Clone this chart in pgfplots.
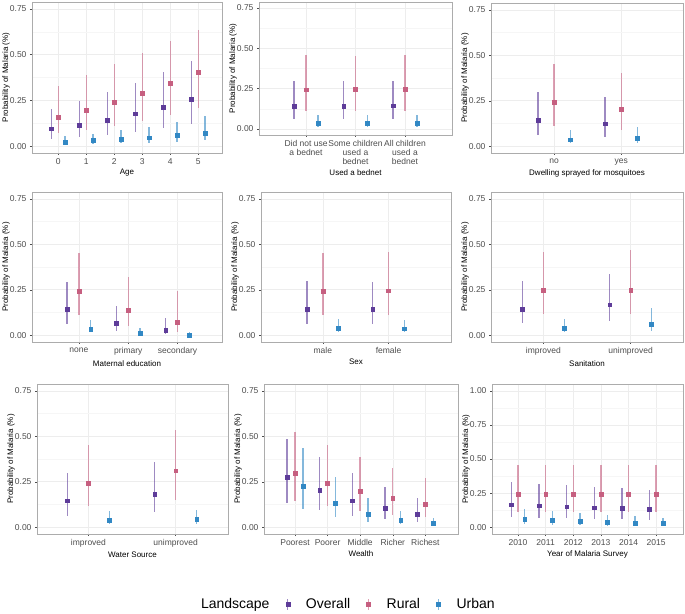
\documentclass[border=0pt]{standalone}
\usepackage{pgfplots}
\pgfplotsset{compat=1.18}
\usepackage{pgfplotstable}
\usepackage{fontspec}
\setmainfont{Liberation Sans}

\definecolor{ovr}{HTML}{5E3C99}
\definecolor{rur}{HTML}{C65F80}
\definecolor{urb}{HTML}{3288C4}
\definecolor{tickcol}{HTML}{4D4D4D}

% columns: category, Overall (est, low, high), Rural, Urban
\pgfplotstableread{
x o ol oh r rl rh u ul uh
0 0.095 0.040 0.204 0.160 0.070 0.331 0.022 0.010 0.058
1 0.115 0.051 0.246 0.198 0.087 0.388 0.031 0.013 0.069
2 0.142 0.060 0.295 0.242 0.109 0.450 0.038 0.015 0.086
3 0.177 0.078 0.346 0.289 0.137 0.510 0.046 0.018 0.107
4 0.211 0.098 0.404 0.344 0.169 0.573 0.058 0.024 0.133
5 0.258 0.122 0.464 0.404 0.207 0.632 0.071 0.031 0.164
}\agetab
\pgfplotstableread{
x o ol oh r rl rh u ul uh
1 0.140 0.060 0.295 0.244 0.110 0.457 0.036 0.013 0.088
2 0.143 0.060 0.297 0.245 0.110 0.455 0.037 0.013 0.088
3 0.144 0.062 0.298 0.245 0.110 0.457 0.037 0.013 0.089
}\nettab
\pgfplotstableread{
x o ol oh r rl rh u ul uh
1 0.142 0.060 0.296 0.241 0.111 0.453 0.036 0.015 0.088
2 0.124 0.051 0.270 0.204 0.088 0.405 0.042 0.015 0.106
}\spraytab
\pgfplotstableread{
x o ol oh r rl rh u ul uh
1 0.141 0.060 0.295 0.240 0.110 0.451 0.035 0.015 0.086
2 0.064 0.022 0.160 0.136 0.048 0.319 0.011 0.002 0.039
3 0.028 0.006 0.094 0.073 0.018 0.244 0.002 0.000 0.018
}\edutab
\pgfplotstableread{
x o ol oh r rl rh u ul uh
1 0.142 0.064 0.296 0.243 0.113 0.453 0.038 0.015 0.088
2 0.142 0.064 0.294 0.245 0.113 0.456 0.036 0.015 0.082
}\sextab
\pgfplotstableread{
x o ol oh r rl rh u ul uh
1 0.144 0.065 0.299 0.246 0.115 0.458 0.039 0.015 0.089
2 0.168 0.076 0.338 0.249 0.115 0.467 0.061 0.024 0.150
}\santab
\pgfplotstableread{
x o ol oh r rl rh u ul uh
1 0.146 0.064 0.297 0.244 0.115 0.451 0.040 0.015 0.091
2 0.180 0.082 0.359 0.311 0.149 0.537 0.042 0.015 0.096
}\watertab
\pgfplotstableread{
x o ol oh r rl rh u ul uh
1 0.273 0.131 0.486 0.297 0.142 0.522 0.224 0.100 0.433
2 0.202 0.093 0.386 0.244 0.115 0.451 0.131 0.058 0.277
3 0.146 0.064 0.297 0.197 0.087 0.386 0.073 0.031 0.162
4 0.104 0.046 0.220 0.158 0.069 0.324 0.040 0.015 0.091
5 0.071 0.031 0.160 0.126 0.055 0.269 0.024 0.009 0.051
}\wealthtab
\pgfplotstableread{
x o ol oh r rl rh u ul uh
1 0.165 0.073 0.328 0.243 0.114 0.454 0.056 0.024 0.131
2 0.158 0.070 0.318 0.243 0.114 0.454 0.051 0.019 0.117
3 0.150 0.066 0.306 0.243 0.114 0.454 0.044 0.017 0.104
4 0.143 0.061 0.296 0.243 0.114 0.454 0.036 0.012 0.092
5 0.138 0.058 0.286 0.243 0.114 0.454 0.032 0.012 0.083
6 0.131 0.053 0.274 0.243 0.114 0.454 0.029 0.007 0.070
}\yeartab

\pgfplotsset{
  panel/.style={
    scale only axis,
    ymin=-0.0375, ymax=0.7875,
    ytick={0,0.25,0.5,0.75},
    minor ytick={0.125,0.375,0.625},
    xmajorgrids, ymajorgrids, yminorgrids,
    major grid style={gray!14, line width=0.5pt},
    minor grid style={gray!7, line width=0.4pt},
    axis line style={gray!65, line width=0.6pt},
    tick pos=left, tick align=outside,
    major tick length=2pt, minor tick length=0pt,
    tick style={tickcol, line width=0.4pt},
    ticklabel style={font=\fontsize{8.5}{9}\selectfont, text=tickcol},
    /pgf/number format/assume math mode=true,
    yticklabel style={/pgf/number format/.cd, fixed, fixed zerofill, precision=2},
    label style={font=\fontsize{8}{9}\selectfont},
    ylabel={Probability of Malaria (\%)},
    every axis y label/.style={at={([xshift=-26pt]axis description cs:0,0.5)},
      rotate=90, anchor=center, font=\fontsize{8}{9}\selectfont},
    xlabel style={yshift=2pt},
    xtick=data,
  },
  ci/.style={only marks, mark=square*, mark size=1.9pt, color=#1, forget plot,
    error bars/.cd, y dir=both, y explicit, error mark=none,
    error bar style={line width=1.4pt, color=#1, draw opacity=0.6}},
  keyimg/.style={legend image code/.code={
    \draw[line width=1.4pt, draw opacity=0.6] (0.3em,-0.55em) -- (0.3em,0.55em);
    \fill (0.3em,0) ++(-2pt,-2pt) rectangle ++(4pt,4pt);}, color=#1},
}

\newcommand{\threeci}[1]{%
  \addplot[ci=ovr] table[x expr=\thisrow{x}-0.24, y=o,
    y error plus expr=\thisrow{oh}-\thisrow{o},
    y error minus expr=\thisrow{o}-\thisrow{ol}] {#1};
  \addplot[ci=rur] table[x=x, y=r,
    y error plus expr=\thisrow{rh}-\thisrow{r},
    y error minus expr=\thisrow{r}-\thisrow{rl}] {#1};
  \addplot[ci=urb] table[x expr=\thisrow{x}+0.24, y=u,
    y error plus expr=\thisrow{uh}-\thisrow{u},
    y error minus expr=\thisrow{u}-\thisrow{ul}] {#1};
}

\begin{document}
\begin{tikzpicture}
\useasboundingbox (0pt,0pt) rectangle (685pt,613pt);

% row 1
\begin{axis}[panel, at={(32pt,460pt)}, anchor=south west, width=190pt, height=151pt,
  xmin=-0.94, xmax=5.85, xtick={0,1,2,3,4,5}, xlabel={Age}]
\threeci{\agetab}
\end{axis}

\begin{axis}[panel, at={(259pt,478pt)}, anchor=south west, width=193pt, height=133pt,
  xmin=0.05, xmax=3.95, xtick={1,2,3},
  xticklabels={{Did not use\\a bednet},{Some children\\used a\\bednet},{All children\\used a\\bednet}},
  xticklabel style={align=center, font=\fontsize{8.5}{9}\selectfont},
  xlabel={Used a bednet}]
\threeci{\nettab}
\end{axis}

\begin{axis}[panel, at={(491pt,460pt)}, anchor=south west, width=192pt, height=150pt,
  xmin=0.06, xmax=2.92, xtick={1,2}, xticklabels={no,yes},
  xlabel={Dwelling sprayed for mosquitoes}]
\threeci{\spraytab}
\end{axis}

% row 2
\begin{axis}[panel, at={(32pt,271pt)}, anchor=south west, width=190pt, height=150pt,
  xmin=0.05, xmax=3.9, xtick={1,2,3}, xticklabels={none,primary,secondary},
  xlabel={Maternal education}]
\threeci{\edutab}
\end{axis}

\begin{axis}[panel, at={(261pt,271pt)}, anchor=south west, width=190pt, height=150pt,
  xmin=0.06, xmax=2.95, xtick={1,2}, xticklabels={male,female},
  xlabel={Sex}]
\threeci{\sextab}
\end{axis}

\begin{axis}[panel, at={(491pt,271pt)}, anchor=south west, width=192pt, height=150pt,
  xmin=0.4, xmax=2.6, xtick={1,2}, xticklabels={improved,unimproved},
  xlabel={Sanitation}]
\threeci{\santab}
\end{axis}

% row 3
\begin{axis}[panel, at={(37pt,79pt)}, anchor=south west, width=191pt, height=150pt,
  xmin=0.41, xmax=2.6, xtick={1,2}, xticklabels={improved,unimproved},
  xlabel={Water Source}]
\threeci{\watertab}
\end{axis}

\begin{axis}[panel, at={(264pt,79pt)}, anchor=south west, width=194pt, height=150pt,
  xmin=0.05, xmax=6.0, xtick={1,2,3,4,5},
  xticklabels={Poorest,Poorer,Middle,Richer,Richest},
  xlabel={Wealth},
  legend columns=4,
  legend style={at={(0.396,-0.467)}, anchor=center, draw=none, fill=none,
    font=\fontsize{14}{16}\selectfont,
    /tikz/every even column/.append style={column sep=14pt},
    /tikz/every odd column/.append style={column sep=14pt},
    /tikz/column 1/.append style={column sep=0pt}},
]
\threeci{\wealthtab}
\addlegendimage{empty legend}
\addlegendentry{Landscape}
\addlegendimage{keyimg=ovr}
\addlegendentry{Overall}
\addlegendimage{keyimg=rur}
\addlegendentry{Rural}
\addlegendimage{keyimg=urb}
\addlegendentry{Urban}
\end{axis}

\begin{axis}[panel, at={(492pt,79pt)}, anchor=south west, width=191pt, height=150pt,
  ymin=-0.05, ymax=1.05, ytick={0,0.25,0.5,0.75,1},
  minor ytick={0.125,0.375,0.625,0.875},
  xmin=0.06, xmax=6.97, xtick={1,2,3,4,5,6},
  xticklabels={2010,2011,2012,2013,2014,2015},
  xlabel={Year of Malaria Survey}]
\threeci{\yeartab}
\end{axis}
\end{tikzpicture}
\end{document}
